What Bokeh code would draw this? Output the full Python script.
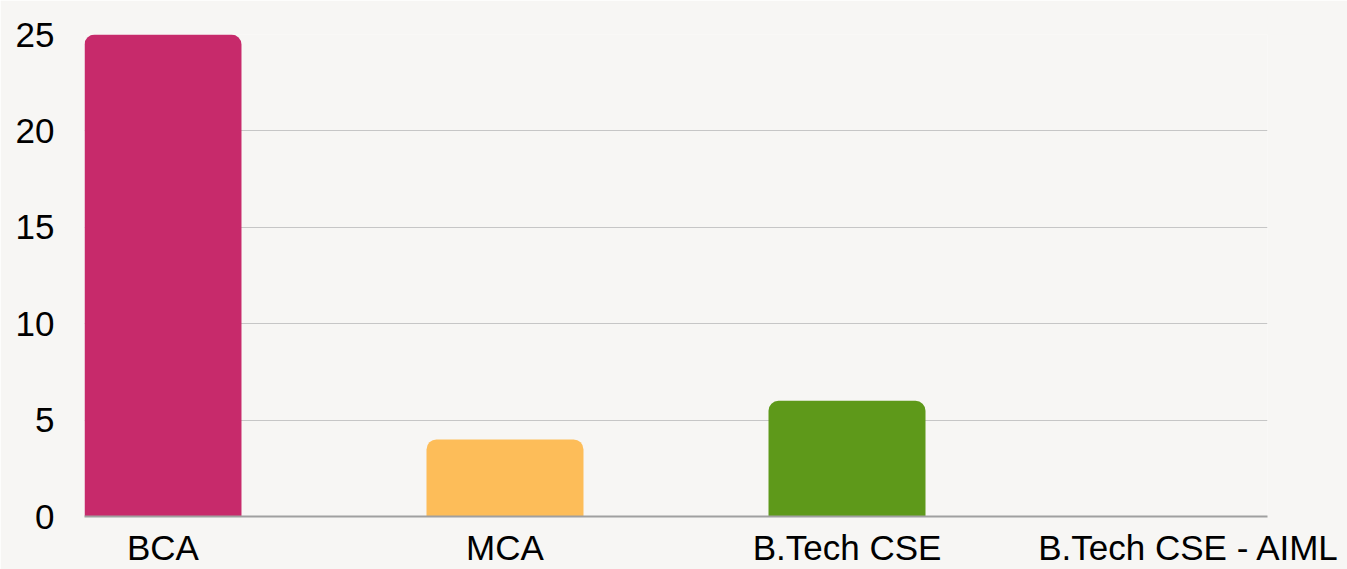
from bokeh.plotting import figure
from bokeh.models import FactorRange, Range1d, ColumnDataSource, SingleIntervalTicker
from bokeh.embed import file_html
from bokeh.resources import INLINE

categories = ["BCA", "MCA", "B.Tech CSE", "B.Tech CSE - AIML"]
counts = [25, 4, 6, 0]
colors = ["#C72A6B", "#FDBD59", "#5E991A", "#3E7CC9"]

src = ColumnDataSource(dict(cat=categories, val=counts, color=colors))

BG = "#F7F6F4"
FONT = "Liberation Sans"

p = figure(
    x_range=FactorRange(factors=categories, range_padding=-0.13525),
    y_range=Range1d(0, 25),
    width=1347, height=569,
    output_backend="svg", toolbar_location=None,
    min_border_left=84, min_border_right=80, min_border_top=34, min_border_bottom=50,
    background_fill_color=BG, border_fill_color=BG,
)
p.outline_line_color = None

p.vbar(x="cat", top="val", width=0.459, source=src, fill_color="color",
       line_color=None, border_radius=(10, 10, 0, 0))

p.xgrid.grid_line_color = None
p.ygrid.grid_line_color = "#C6C6C6"
p.ygrid.grid_line_width = 1
p.yaxis.ticker = SingleIntervalTicker(interval=5)

for ax in (p.xaxis, p.yaxis):
    ax.major_tick_line_color = None
    ax.minor_tick_line_color = None
    ax.major_label_text_font = FONT
    ax.major_label_text_font_size = "35px"
    ax.major_label_text_color = "#000000"

p.yaxis.axis_line_color = None
p.yaxis.major_label_standoff = 24
p.xaxis.axis_line_color = "#A0A0A0"
p.xaxis.axis_line_width = 2
p.xaxis.major_label_standoff = 5

open("out.html", "w").write(file_html(p, INLINE))
